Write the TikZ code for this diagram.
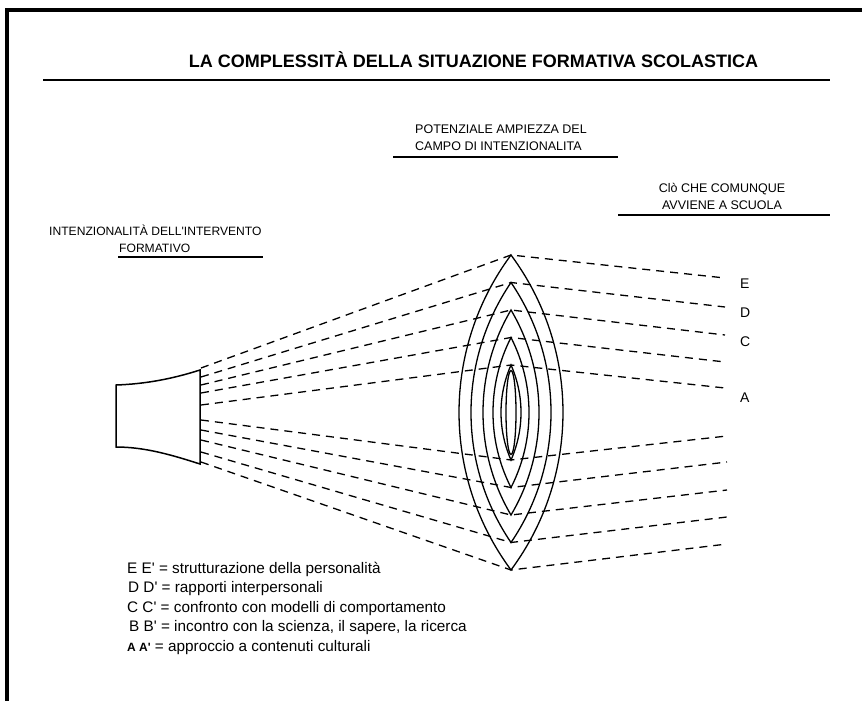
\documentclass[tikz,border=0pt]{standalone}
\usepackage{fontspec}
\setmainfont{Liberation Sans}
\newfontfamily\af{Liberation Sans}
\begin{document}
\begin{tikzpicture}[x=1pt,y=-1pt,
  dl/.style={line width=1.3pt, dash pattern=on 8pt off 6pt},
  lens/.style={line width=1.3pt},
  lab/.style={inner sep=0pt, font=\af\fontsize{12.5}{15}\selectfont},
  leg/.style={inner sep=0pt, anchor=base west, font=\af\fontsize{15.3}{18}\selectfont},
  rlab/.style={inner sep=0pt, anchor=base west, font=\af\fontsize{14}{16}\selectfont},
  uline/.style={line width=1.4pt}]
\useasboundingbox (0,0) rectangle (862,701);
% frame
\draw[line width=3.2pt] (7,710) -- (7,10) -- (870,10);
% title
\node[inner sep=0pt, anchor=base, font=\af\fontsize{18}{20}\selectfont\bfseries] (title) at (473.5,67) {LA COMPLESSITÀ DELLA SITUAZIONE FORMATIVA SCOLASTICA};
\coordinate (tl1) at (43,80); \coordinate (tl2) at (830,80);
\draw[uline] (tl1) -- (tl2);
% top labels
\node[lab, anchor=base west] (pot1) at (415,133) {POTENZIALE AMPIEZZA DEL};
\node[lab, anchor=base west] (pot2) at (415,150) {CAMPO DI INTENZIONALITA};
\coordinate (pl1) at (393,157); \coordinate (pl2) at (618,157);
\draw[uline] (pl1) -- (pl2);
\node[lab, anchor=base] (cio1) at (722,192) {Clò CHE COMUNQUE};
\node[lab, anchor=base] (cio2) at (722,209) {AVVIENE A SCUOLA};
\coordinate (cl1) at (618,215); \coordinate (cl2) at (830,215);
\draw[uline] (cl1) -- (cl2);
\node[lab, anchor=base west, font=\af\fontsize{12.1}{15}\selectfont] (int1) at (49,235) {INTENZIONALITÀ DELL'INTERVENTO};
\node[lab, anchor=base west, font=\af\fontsize{12.1}{15}\selectfont] (int2) at (119,252) {FORMATIVO};
\coordinate (il1) at (118,257); \coordinate (il2) at (263,257);
\draw[line width=2.3pt] (il1) -- (il2);
% source shape
\draw[line width=1.5pt] (116,385) .. controls (145,384) and (172,379) .. (200,370) -- (200,464) .. controls (172,455) and (145,447) .. (116,447) -- cycle;
% lenses
\foreach \h/\w/\R/\t in {157.5/52/264.52/36.54, 130/40/231.25/34.21, 102.5/28/201.61/30.56, 75/18/165.25/27.00, 47.5/10/117.81/23.78}{
  \draw[lens] (511,412.5-\h) arc[start angle=-\t, end angle=\t, radius=\R] arc[start angle=180-\t, end angle=180+\t, radius=\R] -- cycle;
}
\draw[lens] (511,412.5) ellipse[x radius=5, y radius=42];
% coordinates of dashed lines
\coordinate (sE) at (201,368); \coordinate (sD) at (201,377); \coordinate (sC) at (201,385); \coordinate (sB) at (201,393); \coordinate (sA) at (201,405);
\coordinate (sAp) at (201,420); \coordinate (sBp) at (201,430); \coordinate (sCp) at (201,440); \coordinate (sDp) at (201,452); \coordinate (sEp) at (201,462);
\coordinate (tE) at (511,255); \coordinate (tD) at (511,282.5); \coordinate (tC) at (511,310); \coordinate (tB) at (511,337.5); \coordinate (tA) at (511,365);
\coordinate (bA) at (511,460); \coordinate (bB) at (511,487.5); \coordinate (bC) at (511,515); \coordinate (bD) at (511,542.5); \coordinate (bE) at (511,570);
\coordinate (rE) at (725,278); \coordinate (rD) at (725,307); \coordinate (rC) at (725,335); \coordinate (rB) at (725,362); \coordinate (rA) at (725,388);
\coordinate (rAp) at (727,436); \coordinate (rBp) at (727,462); \coordinate (rCp) at (727,490); \coordinate (rDp) at (727,517); \coordinate (rEp) at (727,544);
\foreach \a in {E,D,C,B,A}{
  \draw[dl] (s\a) -- (t\a) -- (r\a);
  \draw[dl] (s\a p) -- (b\a) -- (r\a p);
}
% right letters
\node[rlab] (lE) at (740,288) {E};
\node[rlab] (lD) at (740,317) {D};
\node[rlab] (lC) at (740,346) {C};
\node[rlab] (lA) at (740,402) {A};
% legend
\node[leg] (g1) at (127,573) {E E' = strutturazione della personalità};
\node[leg] (g2) at (128,592.5) {D D' = rapporti interpersonali};
\node[leg] (g3) at (127,612) {C C' = confronto con modelli di comportamento};
\node[leg] (g4) at (129,631.5) {B B' = incontro con la scienza, il sapere, la ricerca};
\node[leg] (g5) at (127,651) {{\fontsize{12}{14}\selectfont\bfseries A A'} = approccio a contenuti culturali};
\end{tikzpicture}
\end{document}
